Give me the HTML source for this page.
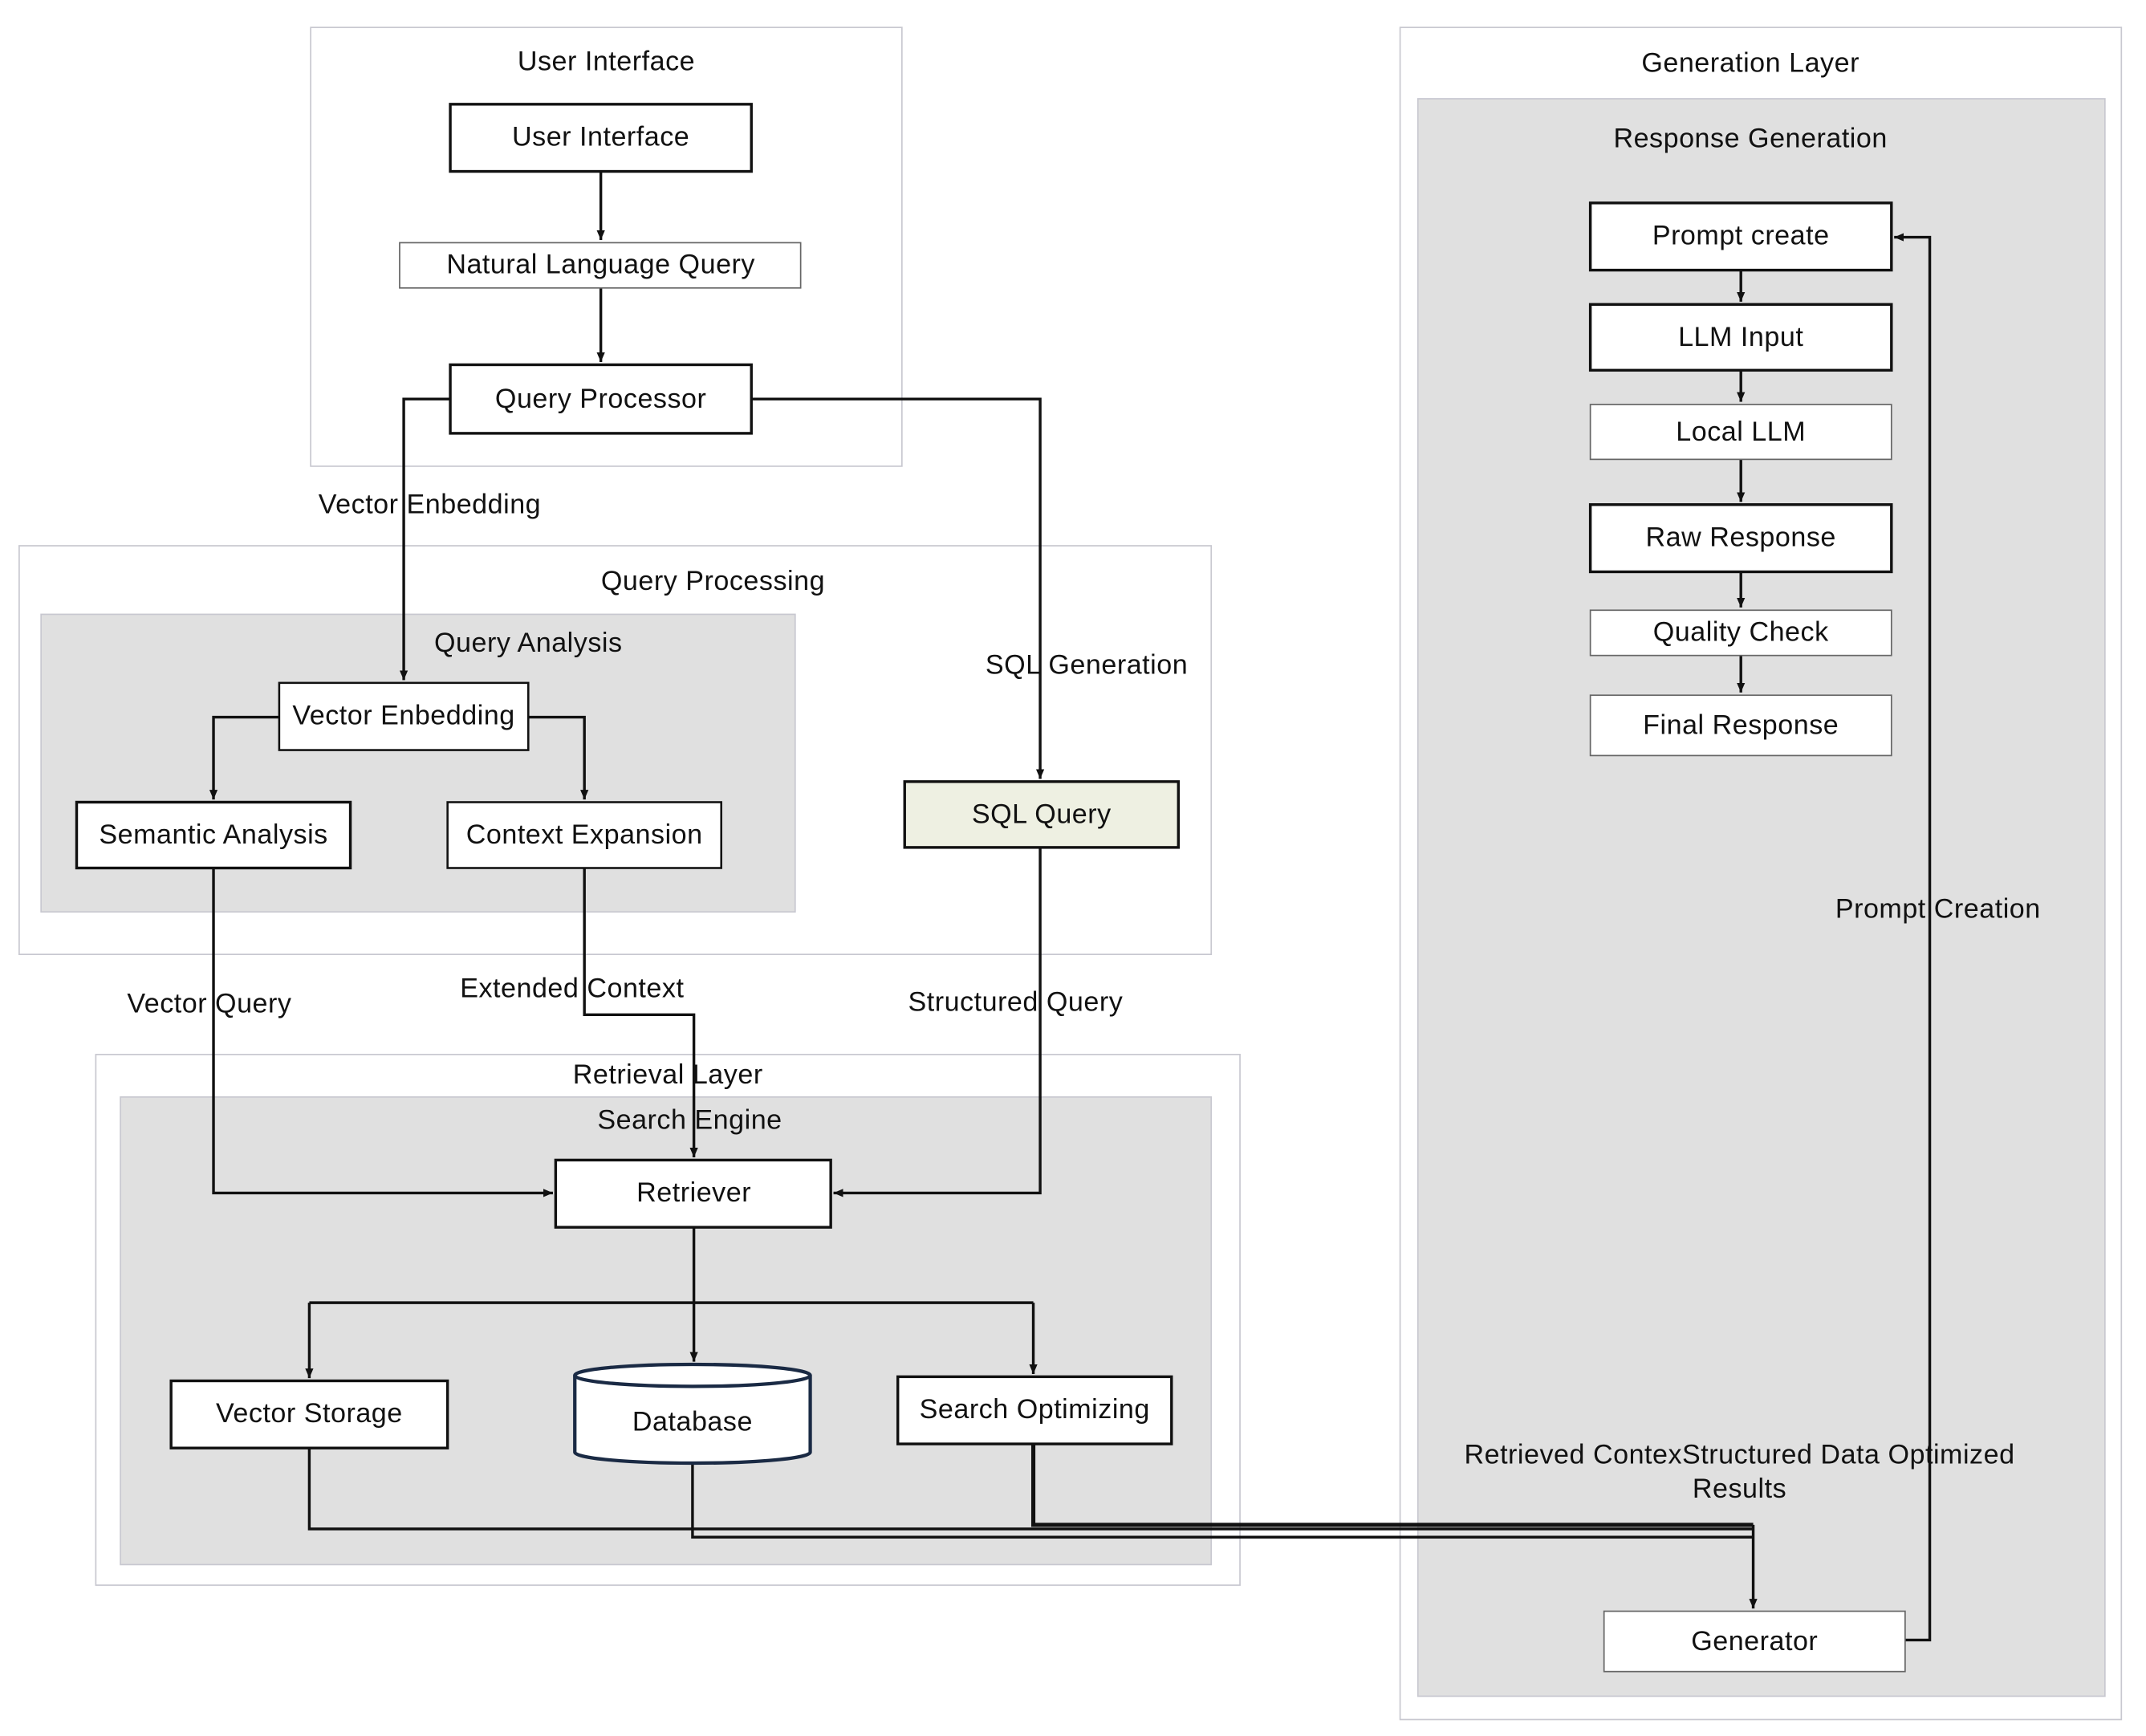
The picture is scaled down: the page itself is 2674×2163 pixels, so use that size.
<!DOCTYPE html>
<html><head><meta charset="utf-8"><style>
html,body{margin:0;padding:0;background:#fff;}
svg{display:block;}
text{font-family:"Liberation Sans",sans-serif;font-size:20px;letter-spacing:0.3px;fill:#111;text-anchor:middle;dominant-baseline:middle;}
</style></head><body>
<svg width="2674" height="2163" viewBox="0 0 1568 1266" preserveAspectRatio="none" xmlns="http://www.w3.org/2000/svg">
<defs><marker id="a" markerWidth="8" markerHeight="8" refX="7" refY="4" orient="auto" markerUnits="userSpaceOnUse"><path d="M0,1 L7,4 L0,7 z" fill="#111"/></marker></defs>
<g fill="none" stroke="#c8c8d0" stroke-width="1">
<rect x="227" y="20" width="432" height="320" fill="#fff"/>
<rect x="14" y="398" width="871" height="298" fill="#fff"/>
<rect x="70" y="769" width="836" height="387" fill="#fff"/>
<rect x="1023" y="20" width="527" height="1234" fill="#fff"/>
</g>
<rect x="30" y="448" width="551" height="217" fill="#e0e0e0" stroke="#c8c8d0"/>
<rect x="88" y="800" width="797" height="341" fill="#e0e0e0" stroke="#c8c8d0"/>
<rect x="1036" y="72" width="502" height="1165" fill="#e0e0e0" stroke="#c8c8d0"/>
<text x="443" y="46">User Interface</text>
<text x="521" y="425">Query Processing</text>
<text x="386" y="470">Query Analysis</text>
<text x="488" y="785">Retrieval Layer</text>
<text x="504" y="818">Search Engine</text>
<text x="1279" y="47">Generation Layer</text>
<text x="1279" y="102">Response Generation</text>
<g fill="none" stroke="#111" stroke-width="2">
<path d="M439,125V175" marker-end="url(#a)"/>
<path d="M439,210V264" marker-end="url(#a)"/>
<path d="M329,291H295V496" marker-end="url(#a)"/>
<path d="M549,291H760V568" marker-end="url(#a)"/>
<path d="M204,523H156V583" marker-end="url(#a)"/>
<path d="M386,523H427V583" marker-end="url(#a)"/>
<path d="M156,633V870H404" marker-end="url(#a)"/>
<path d="M427,633V740H507V844" marker-end="url(#a)"/>
<path d="M760,618V870H609" marker-end="url(#a)"/>
<path d="M507,895V950"/>
<path d="M226,950H755"/>
<path d="M226,950V1005" marker-end="url(#a)"/>
<path d="M507,950V993" marker-end="url(#a)"/>
<path d="M755,950V1002" marker-end="url(#a)"/>
<path d="M226,1056V1115H1281"/>
<path d="M506,1067V1121H1281"/>
<path d="M755,1053V1112H1281" stroke-width="3"/>
<path d="M1281,1112V1173" marker-end="url(#a)"/>
<path d="M1392,1196H1410V173H1384" marker-end="url(#a)"/>
<path d="M1272,197V220" marker-end="url(#a)"/>
<path d="M1272,270V293" marker-end="url(#a)"/>
<path d="M1272,335V366" marker-end="url(#a)"/>
<path d="M1272,417V443" marker-end="url(#a)"/>
<path d="M1272,478V505" marker-end="url(#a)"/>
</g>
<g stroke="#111" fill="#fff">
<rect x="329" y="76" width="220" height="49" stroke-width="2"/>
<rect x="292" y="177" width="293" height="33" stroke-width="1" stroke="#666"/>
<rect x="329" y="266" width="220" height="50" stroke-width="2"/>
<rect x="204" y="498" width="182" height="49" stroke-width="1.5"/>
<rect x="56" y="585" width="200" height="48" stroke-width="2"/>
<rect x="327" y="585" width="200" height="48" stroke-width="1.5"/>
<rect x="661" y="570" width="200" height="48" stroke-width="2" fill="#eef0e2"/>
<rect x="406" y="846" width="201" height="49" stroke-width="2"/>
<rect x="125" y="1007" width="202" height="49" stroke-width="2"/>
<rect x="656" y="1004" width="200" height="49" stroke-width="2"/>
<path d="M420,1003V1059A86,8 0 0 0 592,1059V1003" stroke="#1a2a44" stroke-width="2.5"/>
<ellipse cx="506" cy="1003" rx="86" ry="8" stroke="#1a2a44" stroke-width="2.5"/>
<rect x="1162" y="148" width="220" height="49" stroke-width="2"/>
<rect x="1162" y="222" width="220" height="48" stroke-width="2"/>
<rect x="1162" y="295" width="220" height="40" stroke-width="1" stroke="#666"/>
<rect x="1162" y="368" width="220" height="49" stroke-width="2"/>
<rect x="1162" y="445" width="220" height="33" stroke-width="1" stroke="#666"/>
<rect x="1162" y="507" width="220" height="44" stroke-width="1" stroke="#666"/>
<rect x="1172" y="1175" width="220" height="44" stroke-width="1" stroke="#666"/>
</g>
<text x="439" y="101">User Interface</text>
<text x="439" y="194">Natural Language Query</text>
<text x="439" y="292">Query Processor</text>
<text x="295" y="523">Vector Enbedding</text>
<text x="156" y="610">Semantic Analysis</text>
<text x="427" y="610">Context Expansion</text>
<text x="761" y="595">SQL Query</text>
<text x="507" y="871">Retriever</text>
<text x="226" y="1032">Vector Storage</text>
<text x="506" y="1038">Database</text>
<text x="756" y="1029">Search Optimizing</text>
<text x="1272" y="173">Prompt create</text>
<text x="1272" y="247">LLM Input</text>
<text x="1272" y="316">Local LLM</text>
<text x="1272" y="393">Raw Response</text>
<text x="1272" y="462">Quality Check</text>
<text x="1272" y="530">Final Response</text>
<text x="1282" y="1198">Generator</text>
<text x="314" y="369">Vector Enbedding</text>
<text x="794" y="486">SQL Generation</text>
<text x="153" y="733">Vector Query</text>
<text x="418" y="722">Extended Context</text>
<text x="742" y="732">Structured Query</text>
<text x="1416" y="664">Prompt Creation</text>
<text x="1271" y="1062">Retrieved ContexStructured Data Optimized</text>
<text x="1271" y="1087">Results</text>
</svg>
</body></html>
